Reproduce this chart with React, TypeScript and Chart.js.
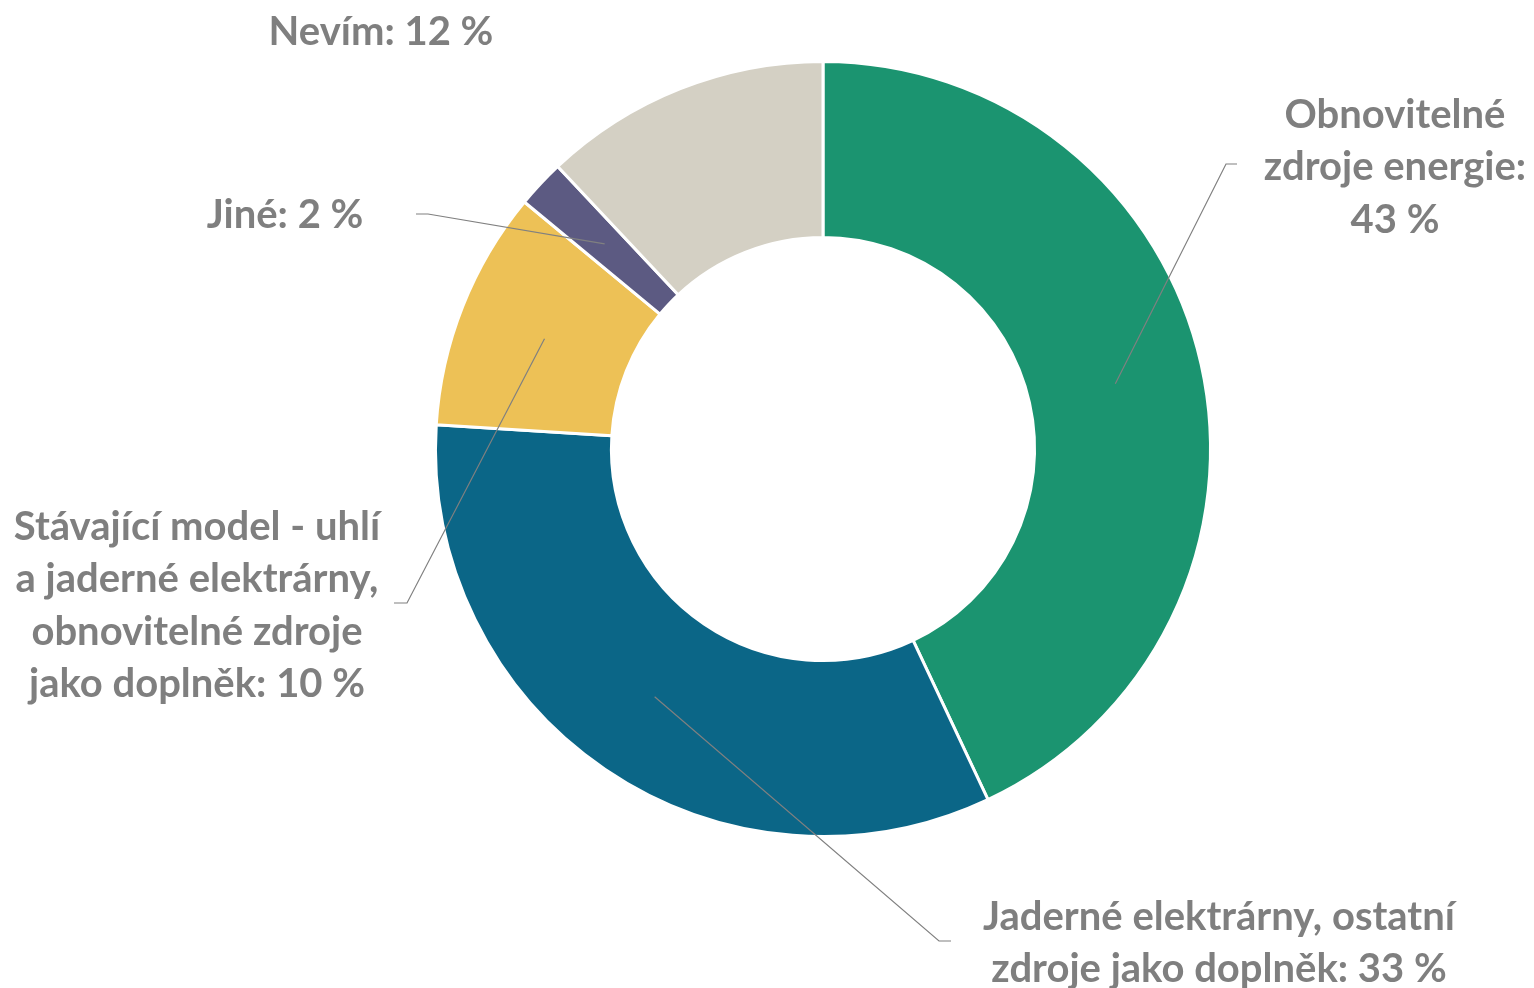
import React, { useEffect, useRef } from "react";
import { Chart, registerables } from "chart.js";

Chart.register(...registerables);

const categories = [
  "Obnovitelné zdroje energie",
  "Jaderné elektrárny, ostatní zdroje jako doplněk",
  "Stávající model - uhlí a jaderné elektrárny, obnovitelné zdroje jako doplněk",
  "Jiné",
  "Nevím",
];
const values = [43, 33, 10, 2, 12];
const colors = ["#1B9470", "#0B6687", "#EDC156", "#5C5A82", "#D4D0C4"];

const labelLines = [
  ["Obnovitelné", "zdroje energie:", "43 %"],
  ["Jaderné elektrárny, ostatní", "zdroje jako doplněk: 33 %"],
  ["Stávající model - uhlí", "a jaderné elektrárny,", "obnovitelné zdroje", "jako doplněk: 10 %"],
  ["Jiné: 2 %"],
  ["Nevím: 12 %"],
];
// label block: center x, first line center y
const labelPos = [
  [1395, 115],
  [1219, 917],
  [197, 527],
  [285, 215],
  [381, 32],
];
// leader elbow point and horizontal tail end (null = no leader)
const leaders: (number[] | null)[] = [
  [1226, 164, 1237],
  [939, 941, 951],
  [407, 603, 394],
  [428, 214, 416],
  null,
];

const LINE_H = 52.3;
const FONT = "bold 40px Lato, 'Open Sans', sans-serif";
const TEXT_COLOR = "#7F7F7F";

const labelPlugin = {
  id: "labelPlugin",
  afterDatasetsDraw(chart: any) {
    const ctx = chart.ctx;
    const meta = chart.getDatasetMeta(0);
    ctx.save();
    meta.data.forEach((arc: any, i: number) => {
      const p = arc.getProps(["x", "y", "startAngle", "endAngle", "innerRadius", "outerRadius"], true);
      const mid = (p.startAngle + p.endAngle) / 2;
      const r = (p.innerRadius + p.outerRadius) / 2;
      const sx = p.x + Math.cos(mid) * r;
      const sy = p.y + Math.sin(mid) * r;
      const ld = leaders[i];
      if (ld) {
        ctx.beginPath();
        ctx.strokeStyle = "#808080";
        ctx.lineWidth = 1.2;
        ctx.moveTo(sx, sy);
        ctx.lineTo(ld[0], ld[1]);
        ctx.lineTo(ld[2], ld[1]);
        ctx.stroke();
      }
    });
    ctx.font = FONT;
    ctx.fillStyle = TEXT_COLOR;
    ctx.textAlign = "center";
    ctx.textBaseline = "middle";
    labelLines.forEach((lines, i) => {
      const [cx, cy] = labelPos[i];
      lines.forEach((t, j) => {
        ctx.fillText(t, cx, cy + j * LINE_H);
      });
    });
    ctx.restore();
  },
};

export default function App() {
  const ref = useRef<HTMLCanvasElement | null>(null);
  useEffect(() => {
    if (!ref.current) return;
    const chart = new Chart(ref.current, {
      type: "doughnut",
      data: {
        labels: categories,
        datasets: [
          {
            data: values,
            backgroundColor: colors,
            borderColor: "#FFFFFF",
            borderWidth: 3,
            hoverOffset: 0,
          },
        ],
      },
      options: {
        animation: false,
        responsive: true,
        maintainAspectRatio: false,
        cutout: "54.6%",
        rotation: 0,
        layout: { padding: { left: 434, top: 60, right: 322, bottom: 150 } },
        plugins: {
          legend: { display: false },
          tooltip: { enabled: false },
        },
      },
      plugins: [labelPlugin],
    });
    return () => chart.destroy();
  }, []);
  return (
    <div style={{ position: "fixed", left: 0, top: 0, width: 1534, height: 988, background: "#FFFFFF" }}>
      <canvas ref={ref} />
    </div>
  );
}
